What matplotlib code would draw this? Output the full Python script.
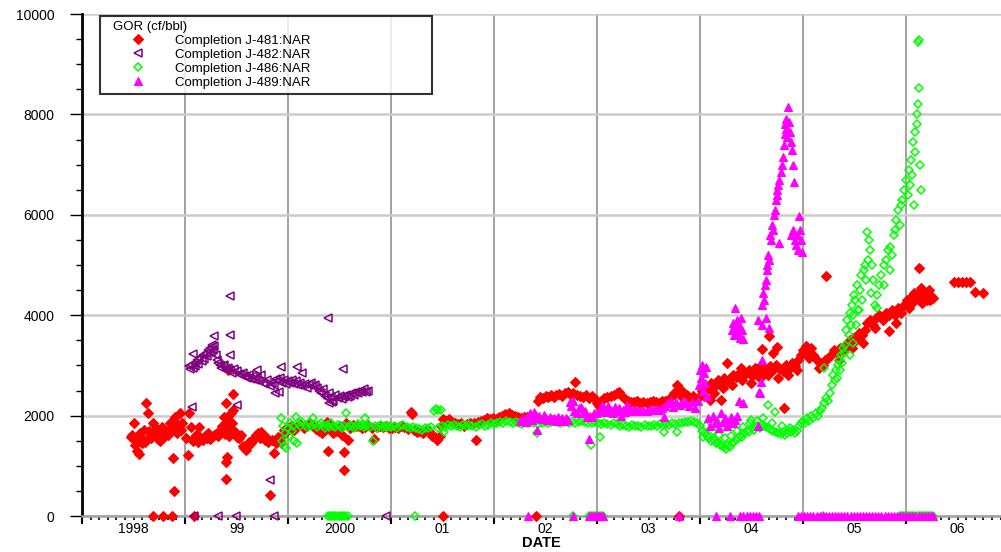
import matplotlib
matplotlib.use("Agg")
import matplotlib.pyplot as plt
from matplotlib.ticker import FixedLocator, MultipleLocator

plt.rcParams['font.family'] = ['Liberation Sans', 'DejaVu Sans']

# ---- data (decimal year, GOR cf/bbl) ----
j481_t = [1998.48, 1998.50, 1998.51, 1998.53, 1998.55, 1998.56, 1998.58, 1998.60, 1998.62, 1998.64,
          1998.65, 1998.67, 1998.69, 1998.71, 1998.72, 1998.74, 1998.76, 1998.78, 1998.79, 1998.81,
          1998.83, 1998.85, 1998.86, 1998.88, 1998.90, 1998.91, 1998.93, 1998.95, 1998.97,
          1998.49, 1998.52, 1998.57, 1998.61, 1998.66, 1998.70, 1998.75, 1998.80, 1998.84, 1998.89,
          1998.92, 1998.96,
          1999.01, 1999.03, 1999.04, 1999.06, 1999.08, 1999.09, 1999.11, 1999.13, 1999.14, 1999.15,
          1999.17, 1999.19, 1999.21, 1999.22, 1999.24, 1999.26, 1999.28, 1999.30, 1999.32, 1999.33,
          1999.35, 1999.36, 1999.38, 1999.39, 1999.40, 1999.40, 1999.40, 1999.41, 1999.41, 1999.42,
          1999.42, 1999.43, 1999.45, 1999.46, 1999.47, 1999.47, 1999.48, 1999.49, 1999.50, 1999.52,
          1999.54, 1999.56, 1999.57, 1999.59, 1999.61, 1999.62, 1999.64, 1999.66, 1999.68, 1999.69,
          1999.71, 1999.73, 1999.74, 1999.76, 1999.78, 1999.79, 1999.81, 1999.82, 1999.84, 1999.86,
          1999.88, 1999.90, 1999.92, 1999.93, 1999.95, 1999.96, 1999.98,
          2000.00, 2000.03, 2000.06, 2000.09, 2000.12, 2000.15, 2000.18, 2000.21, 2000.24, 2000.27,
          2000.30, 2000.33, 2000.36, 2000.38, 2000.39, 2000.41, 2000.44, 2000.47, 2000.50, 2000.52,
          2000.54, 2000.54, 2000.56, 2000.58, 2000.60, 2000.63, 2000.66, 2000.69, 2000.72, 2000.75,
          2000.78, 2000.81, 2000.83, 2000.86, 2000.89, 2000.92, 2000.95, 2000.98,
          2001.01, 2001.04, 2001.07, 2001.10, 2001.13, 2001.16, 2001.19, 2001.20, 2001.22, 2001.25,
          2001.28, 2001.31, 2001.34, 2001.37, 2001.40, 2001.43, 2001.45, 2001.47, 2001.48, 2001.50,
          2001.53, 2001.56, 2001.59, 2001.62, 2001.65, 2001.68, 2001.71, 2001.74, 2001.77, 2001.80,
          2001.82, 2001.84, 2001.87, 2001.90, 2001.93, 2001.96, 2001.99, 2002.02, 2002.05, 2002.08,
          2002.11, 2002.14, 2002.17, 2002.20, 2002.23, 2002.26, 2002.29, 2002.32, 2002.35,
          2002.40, 2002.43, 2002.45, 2002.47, 2002.50, 2002.52, 2002.55, 2002.58, 2002.60, 2002.63,
          2002.66, 2002.69, 2002.72, 2002.74, 2002.77, 2002.79, 2002.80, 2002.83, 2002.86, 2002.89,
          2002.92, 2002.95, 2002.97,
          2003.00, 2003.02, 2003.04, 2003.07, 2003.10, 2003.13, 2003.16, 2003.19, 2003.21, 2003.24,
          2003.27, 2003.30, 2003.33, 2003.36, 2003.39, 2003.42, 2003.45, 2003.48, 2003.51, 2003.54,
          2003.57, 2003.60, 2003.63, 2003.66, 2003.69, 2003.72, 2003.75, 2003.78, 2003.79, 2003.81,
          2003.84, 2003.87, 2003.90, 2003.93, 2003.96, 2003.99,
          2004.02, 2004.05, 2004.08, 2004.10, 2004.11, 2004.14, 2004.17, 2004.20, 2004.20, 2004.23,
          2004.26, 2004.26, 2004.29, 2004.32, 2004.35, 2004.38, 2004.41, 2004.44, 2004.47, 2004.50,
          2004.53, 2004.56, 2004.59, 2004.60, 2004.62, 2004.65, 2004.67, 2004.68, 2004.71, 2004.71,
          2004.74, 2004.75, 2004.77, 2004.80, 2004.81, 2004.83, 2004.86, 2004.89, 2004.92, 2004.95,
          2004.98,
          2004.04, 2004.13, 2004.22, 2004.31, 2004.40, 2004.49, 2004.58, 2004.66, 2004.76, 2004.85,
          2004.94,
          2005.00, 2005.03, 2005.05, 2005.08, 2005.10, 2005.13, 2005.16, 2005.19, 2005.21, 2005.22,
          2005.24, 2005.27, 2005.30, 2005.33, 2005.36, 2005.39, 2005.42, 2005.45, 2005.48, 2005.51,
          2005.54, 2005.57, 2005.60, 2005.62, 2005.65, 2005.68, 2005.71, 2005.74, 2005.77, 2005.80,
          2005.83, 2005.83, 2005.86, 2005.89, 2005.92, 2005.95, 2005.98, 2006.01, 2006.04, 2006.06,
          2006.08, 2006.10, 2006.12, 2006.12, 2006.14, 2006.16, 2006.18, 2006.20, 2006.22, 2006.24,
          2006.26,
          2005.06, 2005.15, 2005.35, 2005.47, 2005.58, 2005.70, 2005.90, 2006.03, 2006.15, 2006.23,
          2006.46, 2006.50, 2006.54, 2006.58, 2006.62, 2006.67, 2006.75]
j481_v = [1580, 1850, 1420, 1300, 1230, 1650, 1460, 1720, 2250, 2050,
          1700, 1560, 1850, 1640, 1750, 1540, 1500, 1780, 1600, 1690,
          1620, 1850, 1730, 1150, 1970, 1760, 1820, 2050, 1850,
          1620, 1500, 1560, 1480, 1600, 1700, 1650, 1580, 1720, 500,
          1650, 1720,
          1550, 1215, 2050, 1770, 1500, 1550, 1620, 1480, 1770, 1570,
          1520, 1600, 1560, 1650, 1540, 1580, 1610, 1640, 1590, 1700,
          1670, 1800, 1970, 1640, 2250, 1075, 740, 1770, 1175, 1900,
          2900, 1600, 2050, 1850, 2430, 2110, 1700, 1650, 1580, 1560,
          1610, 1400, 1350, 1315, 1400, 1480, 1455, 1520, 1580, 1610,
          1650, 1560, 1670, 1600, 1520, 1570, 1480, 420, 1510, 1255,
          1450, 1570, 1500, 1455, 1620, 1710, 1680,
          1750, 1800, 1720, 1780, 1830, 1760, 1800, 1850, 1790, 1740,
          1700, 1650, 1720, 1880, 1295, 1800, 1650, 1700, 1800, 1620,
          1275, 915, 1850, 1510, 1760, 1820, 1790, 1800, 1750, 1780,
          1820, 1760, 1530, 1780, 1800, 1770, 1790, 1750,
          1760, 1780, 1750, 1800, 1770, 1740, 2070, 2030, 1720, 1680,
          1700, 1650, 1720, 1690, 1600, 1570, 1510, 1590, 1800, 1930,
          1900, 1940, 1880, 1860, 1830, 1850, 1800, 1830, 1860, 1850,
          1510, 1880, 1900, 1920, 1950, 1930, 1960, 1940, 1980, 2000,
          2030, 2050, 2010, 1990, 1970, 1960, 1980, 1970, 1950,
          2000, 2300, 2380, 2350, 2400, 2370, 2410, 2380, 2420, 2440,
          2400, 2450, 2470, 2430, 2460, 2670, 2420, 2400, 2380, 2420,
          2360, 2400, 2350,
          2250, 2200, 2300, 2350, 2380, 2400, 2420, 2450, 2470, 2400,
          2330, 2300, 2280, 2270, 2290, 2260, 2280, 2250, 2270, 2300,
          2280, 2260, 2290, 2300, 2320, 2380, 2450, 2610, 2550, 2400,
          2460, 2420, 2350, 2400, 2330, 2380,
          2500, 2600, 2550, 2310, 2650, 2580, 2700, 2620, 2310, 2750,
          3050, 2680, 2720, 2800, 2760, 2850, 2700, 2820, 2900, 2780,
          2950, 2880, 3000, 3330, 2850, 2920, 3590, 2980, 3250, 2900,
          3000, 3370, 2950, 2880, 2150, 3000, 2920, 3050, 2980, 3100,
          3200,
          2400, 2450, 2550, 2600, 2950, 2650, 2750, 2800, 2750, 2800,
          2900,
          3300, 3380, 3250, 3350, 3200, 3100, 3050, 3000, 3100, 4780,
          3150, 3200, 3300, 3250, 3350, 3300, 3400, 3500, 3550, 3500,
          3650, 3600, 3700, 3850, 3900, 3800, 3950, 4000, 3900, 4050,
          3690, 4000, 4100, 4000, 4150, 4050, 4200, 4300, 4350, 4250,
          4450, 4400, 4940, 4300, 4550, 4350, 4450, 4300, 4500, 4380,
          4350,
          3150, 2950, 3100, 3350, 3450, 3750, 3850, 4150, 4250, 4300,
          4660, 4660, 4660, 4660, 4660, 4460, 4440]
j481_zero_t = [1998.69, 1998.79, 1998.87, 1999.09, 2001.50, 2002.41, 2003.79]

j482_t = [1999.04, 1999.05, 1999.06, 1999.08, 1999.09, 1999.10, 1999.12, 1999.13, 1999.14, 1999.16,
          1999.17, 1999.18, 1999.20, 1999.21, 1999.22, 1999.24, 1999.25, 1999.26, 1999.27, 1999.28,
          1999.30, 1999.31, 1999.32, 1999.34, 1999.35, 1999.37, 1999.38, 1999.40, 1999.42, 1999.44,
          1999.46, 1999.48, 1999.50, 1999.52, 1999.54, 1999.56, 1999.58, 1999.60, 1999.62, 1999.64,
          1999.66, 1999.68, 1999.70, 1999.72, 1999.74, 1999.76, 1999.78, 1999.80, 1999.82, 1999.84,
          1999.86, 1999.88, 1999.90, 1999.92, 1999.94, 1999.96, 1999.98, 2000.00, 2000.02, 2000.04,
          2000.06, 2000.08, 2000.10, 2000.12, 2000.14, 2000.16, 2000.18, 2000.20, 2000.22, 2000.24,
          2000.26, 2000.28, 2000.30, 2000.32, 2000.34, 2000.36, 2000.38, 2000.40, 2000.42, 2000.44,
          2000.46, 2000.48, 2000.50, 2000.52, 2000.54, 2000.56, 2000.58, 2000.60, 2000.62, 2000.64,
          2000.66, 2000.68, 2000.70, 2000.72, 2000.74, 2000.76, 2000.78,
          1999.87, 1999.91, 2000.40, 2000.43,
          1999.07, 1999.08, 1999.28, 1999.44, 1999.44, 1999.44, 1999.50, 1999.82, 1999.93, 2000.09,
          2000.39, 2000.53, 1999.70, 2000.14]
j482_v = [2990, 2920, 3000, 2950, 3050, 2980, 3100, 3020, 3150, 3080,
          3200, 3120, 3250, 3180, 3300, 3350, 3250, 3400, 3300, 3380,
          3200, 3100, 3050, 3000, 2950, 2980, 3000, 2930, 2950, 2900,
          2850, 2920, 2880, 2830, 2800, 2850, 2780, 2750, 2800, 2720,
          2780, 2700, 2750, 2680, 2800, 2650, 2620, 2700, 2580, 2650,
          2600, 2720, 2680, 2750, 2650, 2700, 2620, 2680, 2650, 2700,
          2620, 2680, 2600, 2650, 2580, 2620, 2550, 2600, 2650, 2580,
          2600, 2550, 2500, 2450, 2520, 2400, 2350, 2450, 2380, 2300,
          2420, 2350, 2400, 2330, 2380, 2420, 2380, 2400, 2450, 2420,
          2480, 2450, 2500, 2470, 2520, 2480, 2500,
          2450, 2480, 2250, 2280,
          2170, 3230, 3590, 3600, 3200, 4380, 2210, 720, 2970, 2970,
          3940, 2930, 2900, 2850]
j482_zero_t = [1999.09, 1999.32, 1999.49, 1999.86, 2000.95]

j486_t = [1999.93, 1999.94, 1999.95, 1999.96, 1999.97, 1999.98, 2000.00, 2000.01, 2000.02, 2000.04,
          2000.05, 2000.06, 2000.08, 2000.09, 2000.10, 2000.12, 2000.14, 2000.16, 2000.18, 2000.20,
          2000.22, 2000.24, 2000.26, 2000.28, 2000.30, 2000.32, 2000.34, 2000.36, 2000.38, 2000.40,
          2000.42, 2000.44, 2000.46, 2000.48, 2000.50, 2000.52, 2000.54, 2000.56, 2000.58, 2000.60,
          2000.62, 2000.64, 2000.66, 2000.68, 2000.70, 2000.72, 2000.74, 2000.75, 2000.76, 2000.78,
          2000.80, 2000.82, 2000.84, 2000.86, 2000.88, 2000.90, 2000.92, 2000.94, 2000.96, 2000.98,
          2001.00, 2001.03, 2001.06, 2001.09, 2001.12, 2001.15, 2001.18, 2001.21, 2001.24, 2001.27,
          2001.30, 2001.33, 2001.36, 2001.39, 2001.42, 2001.44, 2001.46, 2001.48, 2001.46, 2001.49,
          2001.51, 2001.52, 2001.55, 2001.58, 2001.61, 2001.64, 2001.67, 2001.70, 2001.73, 2001.76,
          2001.79, 2001.82, 2001.85, 2001.88, 2001.91, 2001.94, 2001.97, 2002.00,
          2002.03, 2002.06, 2002.09, 2002.12, 2002.15, 2002.18, 2002.21, 2002.24, 2002.27, 2002.30,
          2002.33, 2002.36, 2002.39, 2002.42, 2002.43, 2002.46, 2002.49, 2002.52, 2002.55, 2002.58,
          2002.61, 2002.64, 2002.67, 2002.70, 2002.73, 2002.76, 2002.79, 2002.82, 2002.85, 2002.88,
          2002.91, 2002.94, 2002.95, 2002.98,
          2003.01, 2003.03, 2003.04, 2003.07, 2003.10, 2003.13, 2003.16, 2003.19, 2003.22, 2003.25,
          2003.28, 2003.31, 2003.34, 2003.37, 2003.40, 2003.43, 2003.46, 2003.49, 2003.52, 2003.55,
          2003.58, 2003.61, 2003.64, 2003.65, 2003.67, 2003.70, 2003.73, 2003.76, 2003.78, 2003.79,
          2003.82, 2003.85, 2003.88, 2003.91, 2003.94, 2003.97, 2004.00,
          2004.02, 2004.03, 2004.05, 2004.07, 2004.09, 2004.11, 2004.13, 2004.15, 2004.17, 2004.19,
          2004.21, 2004.23, 2004.25, 2004.27, 2004.29, 2004.31, 2004.33, 2004.35, 2004.37, 2004.39,
          2004.41, 2004.43, 2004.45, 2004.47, 2004.49, 2004.50, 2004.52, 2004.54, 2004.56, 2004.58,
          2004.60, 2004.62, 2004.64, 2004.66, 2004.67, 2004.69, 2004.71, 2004.73, 2004.74, 2004.76,
          2004.78, 2004.80, 2004.82, 2004.84, 2004.86, 2004.88, 2004.90, 2004.92, 2004.94, 2004.96,
          2004.98,
          2004.06, 2004.12, 2004.18, 2004.24, 2004.30, 2004.36, 2004.42, 2004.48, 2004.55, 2004.61,
          2004.70, 2004.79, 2004.87,
          2005.00, 2005.02, 2005.04, 2005.06, 2005.08, 2005.10, 2005.12, 2005.14, 2005.16, 2005.18,
          2005.20, 2005.20, 2005.22, 2005.24, 2005.26, 2005.28, 2005.29, 2005.31, 2005.32, 2005.34,
          2005.35, 2005.37, 2005.38, 2005.40, 2005.41, 2005.42, 2005.43, 2005.44, 2005.45, 2005.46,
          2005.47, 2005.48, 2005.49, 2005.50, 2005.52, 2005.53, 2005.55, 2005.56, 2005.57, 2005.59,
          2005.60, 2005.61, 2005.62, 2005.63, 2005.64, 2005.65, 2005.67, 2005.68, 2005.70, 2005.72,
          2005.74, 2005.76, 2005.78, 2005.80, 2005.82, 2005.84, 2005.86, 2005.88, 2005.90, 2005.92,
          2005.94, 2005.96, 2005.98, 2006.00, 2006.02, 2006.03, 2006.04, 2006.05, 2006.06, 2006.07,
          2006.08, 2006.09, 2006.10, 2006.10, 2006.11, 2006.12, 2006.11, 2006.12, 2006.09, 2006.13,
          2006.14,
          2005.33, 2005.36, 2005.39, 2005.45, 2005.48, 2005.51, 2005.54, 2005.66, 2005.72, 2005.78,
          2005.84, 2005.89, 2005.95]
j486_v = [1950, 1500, 1800, 1400, 1650, 1350, 1750, 1600, 1850, 1700,
          1800, 1500, 1970, 1450, 1850, 1800, 1870, 1820, 1780, 1850,
          1800, 1950, 1830, 1780, 1820, 1860, 1800, 1760, 1820, 1780,
          1850, 1800, 1770, 1820, 1790, 1750, 1800, 2050, 1780, 1820,
          1800, 1760, 1800, 1830, 1790, 1810, 1780, 1950, 1800, 1820,
          1780, 1500, 1800, 1760, 1790, 1810, 1780, 1800, 1770, 1790,
          1780, 1800, 1760, 1790, 1810, 1770, 1750, 1780, 1760, 1740,
          1720, 1760, 1750, 1780, 2100, 2130, 2110, 2120, 1760, 1800,
          1670, 1780, 1810, 1790, 1820, 1800, 1780, 1810, 1790, 1820,
          1800, 1780, 1810, 1830, 1800, 1820, 1850, 1830,
          1850, 1880, 1860, 1900, 1870, 1850, 1880, 1860, 1840, 1870,
          1850, 1880, 1860, 1650, 1830, 1860, 1880, 1850, 1870, 1900,
          1880, 1850, 1870, 1890, 1860, 1880, 1850, 1870, 1900, 1880,
          1860, 1410, 1850, 1870,
          1850, 1580, 1830, 1860, 1840, 1820, 1850, 1830, 1800, 1820,
          1800, 1780, 1810, 1790, 1800, 1780, 1810, 1790, 1800, 1820,
          1800, 1830, 1810, 1670, 1840, 1820, 1850, 1830, 1670, 1860,
          1850, 1880, 1870, 1900, 1880, 1850, 1800,
          1700, 1570, 1650, 1600, 1550, 1500, 1520, 1450, 1480, 1420,
          1400, 1380, 1330, 1420, 1380, 1450, 1480, 1520, 1550, 1600,
          1580, 1650, 1700, 1680, 1910, 1750, 1720, 1780, 1800, 1760,
          1820, 1800, 1780, 2210, 1750, 1720, 1700, 2070, 1680, 1650,
          1630, 1680, 1620, 1650, 1700, 1680, 1720, 1650, 1700, 1800,
          1850,
          1800, 1700, 1620, 1550, 1600, 1700, 1780, 1850, 1900, 1950,
          1850, 1800, 1750,
          1900, 1850, 1950, 1900, 2000, 1950, 2050, 2000, 2100, 2150,
          2250, 2950, 2350, 2300, 2450, 2600, 2800, 2700, 2900, 3000,
          3100, 3200, 3050, 3250, 3400, 3700, 3900, 3600, 4050, 3800,
          4200, 4000, 4400, 4300, 4600, 4100, 4500, 4800, 4300, 4900,
          5000, 4700, 5660, 5100, 5500, 5300, 5000, 4700, 4200, 4400,
          4600, 4800, 5000, 5100, 5300, 4900, 5200, 5600, 5900, 6100,
          5800, 6300, 6500, 6700, 6400, 6900, 6600, 7100, 6800, 7450,
          6200, 7650, 7800, 8000, 8200, 8530, 9450, 9480, 7250, 7000,
          6500,
          2750, 2900, 3350, 3200, 3450, 3800, 4100, 4450, 4150, 4600,
          5350, 5700, 6200]
j486_zero_t = [2000.39, 2000.41, 2000.43, 2000.45, 2000.47, 2000.49, 2000.51, 2000.53, 2000.55, 2000.58,
               2001.23, 2002.77, 2002.92, 2002.94, 2002.96, 2002.98, 2003.00, 2003.02, 2003.04, 2003.06,
               2005.19, 2005.94, 2005.96, 2005.98, 2006.00, 2006.02, 2006.04, 2006.06, 2006.08, 2006.10,
               2006.12, 2006.14, 2006.16, 2006.18, 2006.20, 2006.22, 2006.24, 2006.26]

j489_t = [2002.25, 2002.28, 2002.31, 2002.33, 2002.35, 2002.37, 2002.39, 2002.41, 2002.42, 2002.44,
          2002.46, 2002.48, 2002.50, 2002.52, 2002.54, 2002.56, 2002.58, 2002.60, 2002.62, 2002.64,
          2002.66, 2002.68, 2002.70, 2002.72, 2002.74, 2002.75, 2002.77, 2002.78, 2002.80, 2002.82,
          2002.84, 2002.86, 2002.88, 2002.90, 2002.92, 2002.93, 2002.95, 2002.97,
          2003.00, 2003.03, 2003.05, 2003.07, 2003.09, 2003.11, 2003.13, 2003.15, 2003.17, 2003.19,
          2003.21, 2003.23, 2003.25, 2003.27, 2003.29, 2003.31, 2003.33, 2003.36, 2003.39, 2003.42,
          2003.45, 2003.48, 2003.51, 2003.54, 2003.57, 2003.60, 2003.63, 2003.65, 2003.66, 2003.69,
          2003.72, 2003.74, 2003.77, 2003.80, 2003.83, 2003.86, 2003.89, 2003.92, 2003.95, 2003.98,
          2003.99, 2004.00, 2004.01, 2004.02, 2004.03, 2004.04, 2004.05, 2004.06, 2004.07,
          2004.08, 2004.10, 2004.12, 2004.14, 2004.16, 2004.18, 2004.20, 2004.22, 2004.24, 2004.26,
          2004.28, 2004.30, 2004.32, 2004.34, 2004.36, 2004.38, 2004.42, 2004.56, 2004.57, 2004.58,
          2004.59, 2004.60,
          2004.31, 2004.32, 2004.33, 2004.34, 2004.35, 2004.36, 2004.37, 2004.38, 2004.39, 2004.40,
          2004.41, 2004.42, 2004.56, 2004.60, 2004.64, 2004.67,
          2004.60, 2004.61, 2004.62, 2004.63, 2004.64, 2004.645, 2004.65, 2004.66, 2004.67, 2004.68,
          2004.69, 2004.70, 2004.71, 2004.72, 2004.73, 2004.74, 2004.745, 2004.75, 2004.76, 2004.765,
          2004.77, 2004.78, 2004.79, 2004.80, 2004.81, 2004.82, 2004.825, 2004.83, 2004.835, 2004.84,
          2004.85, 2004.86, 2004.87, 2004.88, 2004.89, 2004.90,
          2004.88, 2004.90, 2004.91, 2004.92, 2004.93, 2004.94, 2004.95, 2004.96, 2004.97, 2004.98,
          2004.99]
j489_v = [1900, 1950, 1880, 2000, 2050, 1920, 2070, 1950, 1710, 2000,
          1930, 2020, 1960, 1910, 1980, 1930, 1950, 1900, 1970, 1920,
          1950, 1900, 1960, 1920, 2270, 2200, 2290, 2100, 2050, 2150,
          2170, 2050, 2100, 1980, 1530, 2000, 1970, 2050,
          2050, 2100, 2210, 2150, 2080, 2200, 2120, 2050, 2180, 2100,
          2150, 2000, 2120, 2080, 2210, 2150, 2100, 2130, 2110, 2090,
          2120, 2100, 2130, 2110, 2140, 2120, 2150, 1970, 2200, 2250,
          2300, 2180, 2280, 2220, 2300, 2250, 2200, 2270, 2150, 2300,
          2600, 2900, 2750, 3000, 2500, 2850, 2650, 2970, 2400,
          1950, 1800, 2000, 1850, 1900, 1750, 2050, 1880, 1950, 1800,
          1900, 1980, 1850, 1920, 2000, 2300, 2250, 1800, 2470, 2450,
          2670, 3110,
          3700, 3850, 3600, 4140, 3750, 3900, 3650, 3800, 3550, 3950,
          3700, 3520, 3900, 3800, 3950, 3750,
          4200, 4450, 4300, 4600, 4700, 4900, 5000, 5200, 5100, 5600,
          5500, 5800, 5700, 6000, 6100, 6300, 6500, 6400, 6600, 5440,
          6700, 6850, 7000, 7150, 7400, 7600, 7800, 7700, 7900, 7550,
          8150, 7850, 7650, 7450, 7300, 7000,
          5600, 5700, 6650, 5500, 5400, 5600, 5300, 5980, 5700, 5500,
          5250]
j489_zero_t = [2002.33, 2002.77, 2002.92, 2002.94, 2002.96, 2002.98, 2003.00, 2003.02, 2003.04, 2003.06,
               2003.79, 2004.15, 2004.29, 2004.39, 2004.42, 2004.45, 2004.48, 2004.51, 2004.54, 2004.57,
               2004.95, 2004.98, 2005.01, 2005.04, 2005.07, 2005.10, 2005.13, 2005.16, 2005.19, 2005.22,
               2005.25, 2005.28, 2005.31, 2005.34, 2005.37, 2005.40, 2005.43, 2005.46, 2005.49, 2005.52,
               2005.55, 2005.58, 2005.61, 2005.64, 2005.67, 2005.70, 2005.73, 2005.76, 2005.79, 2005.82,
               2005.85, 2005.88, 2005.91, 2005.94, 2005.97, 2006.00, 2006.03, 2006.06, 2006.09, 2006.12,
               2006.15, 2006.18, 2006.21, 2006.24, 2006.26]

years = list(range(1998, 2007))
year_labels = ['1998', '99', '2000', '01', '02', '03', '04', '05', '06']

series = [
    ('Completion J-481:NAR', j481_t, j481_v, j481_zero_t,
     dict(marker='D', ms=4.6, color='#ff0000', mfc='#ff0000', mew=0.8)),
    ('Completion J-482:NAR', j482_t, j482_v, j482_zero_t,
     dict(marker='<', ms=5.5, color='#800080', mfc='none', mew=1.1)),
    ('Completion J-486:NAR', j486_t, j486_v, j486_zero_t,
     dict(marker='D', ms=4.5, color='#00ff00', mfc='none', mew=1.1)),
    ('Completion J-489:NAR', j489_t, j489_v, j489_zero_t,
     dict(marker='^', ms=5.5, color='#ff00ff', mfc='#ff00ff', mew=0.8)),
]

fig = plt.figure(figsize=(10.01, 5.52), dpi=100)
ax = fig.add_axes([82 / 1001, 36 / 552, 1 - 82 / 1001, 502 / 552])

handles = []
for name, t, v, zt, st in series:
    h, = ax.plot(t, v, linestyle='none', label=name, zorder=3, **st)
    ax.plot(zt, [0] * len(zt), linestyle='none', zorder=4, clip_on=False, **st)
    handles.append(h)

ax.set_xlim(1998.0, 2006.92)
ax.set_ylim(0, 10000)

# x axis: year boundaries as major ticks, monthly minor ticks, label in mid year
ax.xaxis.set_major_locator(FixedLocator(years))
ax.xaxis.set_major_formatter(plt.NullFormatter())
months = [y + m / 12 for y in years for m in range(1, 12)]
ax.set_xticks(months, minor=True)
ax.set_xticklabels([year_labels[i] if m == 6 else '' for i in range(len(years)) for m in range(1, 12)],
                   minor=True)
ax.tick_params(axis='x', which='major', direction='out', length=6, width=1.5, color='black')
ax.tick_params(axis='x', which='minor', direction='out', length=3, width=1.2, color='black',
               labelsize=10, pad=1.5)

ax.yaxis.set_major_locator(MultipleLocator(2000))
ax.yaxis.set_minor_locator(MultipleLocator(500))
ax.tick_params(axis='y', which='major', direction='out', length=9, width=1.0, labelsize=10, pad=11)
ax.tick_params(axis='y', which='minor', direction='out', length=4, width=1.0)

ax.grid(axis='x', which='major', color='#9a9a9a', lw=1.3, zorder=0)
ax.grid(axis='y', which='major', color='#cccccc', lw=1.8, zorder=0)
ax.set_axisbelow(True)

for s in ['top', 'right']:
    ax.spines[s].set_visible(False)
ax.spines['left'].set_linewidth(2)
ax.spines['left'].set_color('black')
ax.spines['bottom'].set_linewidth(1.8)
ax.spines['bottom'].set_color('#a0a0a0')

ax.set_xlabel('DATE', fontsize=10.5, fontweight='bold', labelpad=0)

leg = ax.legend(handles=handles, title='GOR (cf/bbl)', loc='upper left',
                bbox_to_anchor=(100 / 1001, 1 - 16 / 552 - 0.01, 332 / 1001, 0.01),
                bbox_transform=fig.transFigure, mode='expand', borderaxespad=0,
                fontsize=9.5, title_fontsize=9.5, frameon=True, fancybox=False,
                handlelength=4.9, handletextpad=0.4, borderpad=0.4, labelspacing=0.12,
                alignment='left')
leg.get_frame().set_edgecolor('black')
leg.get_frame().set_linewidth(1.5)
leg.get_title().set_position((8, 0))
leg.set_zorder(10)

fig.savefig('out.png', dpi=100)
